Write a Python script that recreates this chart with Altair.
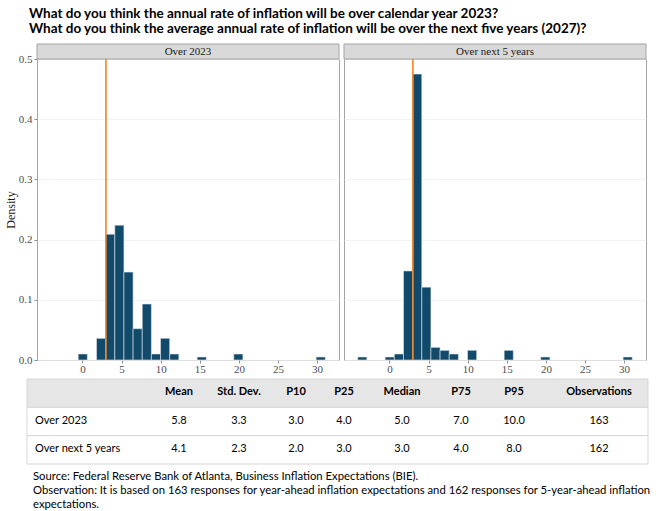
import altair as alt
import pandas as pd

# ---------------- data ----------------
panel_names = ["Over 2023", "Over next 5 years"]

# histogram bins: centre of each bin and its density
bin_centers_2023 = [0.04, 2.38, 3.55, 4.72, 5.89, 7.06, 8.23, 9.40, 10.57, 11.74, 15.25, 19.93, 30.46]
density_2023 = [0.010, 0.036, 0.209, 0.224, 0.146, 0.052, 0.093, 0.010, 0.036, 0.010, 0.005, 0.010, 0.005]
bin_centers_5y = [-3.47, 0.04, 1.21, 2.38, 3.55, 4.72, 5.89, 7.06, 8.23, 10.57, 15.25, 19.93, 30.46]
density_5y = [0.005, 0.005, 0.010, 0.148, 0.475, 0.121, 0.021, 0.016, 0.010, 0.016, 0.016, 0.005, 0.005]
bin_width = 1.17
reference_rate = 3.0

x_ticks = [0, 5, 10, 15, 20, 25, 30]
y_ticks = [0.0, 0.1, 0.2, 0.3, 0.4, 0.5]

title_lines = [
    "What do you think the annual rate of inflation will be over calendar year 2023?",
    "What do you think the average annual rate of inflation will be over the next five years (2027)?",
]

stat_columns = ["Mean", "Std. Dev.", "P10", "P25", "Median", "P75", "P95", "Observations"]
row_names = ["Over 2023", "Over next 5 years"]
stats_2023 = [5.8, 3.3, 3.0, 4.0, 5.0, 7.0, 10.0, 163]
stats_5y = [4.1, 2.3, 2.0, 3.0, 3.0, 4.0, 8.0, 162]

notes = [
    "Source: Federal Reserve Bank of Atlanta, Business Inflation Expectations (BIE).",
    "Observation: It is based on 163 responses for year-ahead inflation expectations and 162 responses for 5-year-ahead inflation",
    "expectations.",
]

# ---------------- layout & style ----------------
PANEL_W, PANEL_H = 302, 301
X_DOMAIN = [-5.81, 32.8]
VSPACE = 3
COL_X = [142, 202, 259, 307, 365, 424, 477, 562]   # table column centres (px)
TABLE_L, TABLE_R, TABLE_H = -10, 611, 85

SERIF = "Liberation Serif"
SANS = "Lato"
BAR = "#124a6b"
ORANGE = "#f5821f"
FRAME = "#a3a3a3"
STRIP = "#d9d9d9"
GRID = "#efefef"
HEADER = "#e7e6e6"
TABLE_LINE = "#d6d6d6"


def panel(name, centers, dens, first):
    df = pd.DataFrame({"center": centers, "density": dens})
    xs = alt.Scale(domain=X_DOMAIN, nice=False, zero=False)
    ys = alt.Scale(domain=[0, 0.5], nice=False)
    x_axis = alt.Axis(values=x_ticks, title=None, grid=False, domain=False,
                      labelFont=SERIF, labelFontSize=11, labelColor="#4d4d4d",
                      tickColor="#8c8c8c", tickSize=3, labelPadding=0)
    if first:
        y_axis = alt.Axis(values=y_ticks, format=".1f", title="Density",
                          titleFont=SERIF, titleFontSize=12, titleFontWeight="normal",
                          titleColor="#1a1a1a", titlePadding=1,
                          labelFont=SERIF, labelFontSize=11, labelColor="#4d4d4d",
                          tickColor="#8c8c8c", tickSize=3, labelPadding=2,
                          domain=False, grid=True, gridColor=GRID, gridWidth=0.8)
    else:
        y_axis = alt.Axis(values=y_ticks, title=None, labels=False, ticks=False,
                          domain=False, grid=True, gridColor=GRID, gridWidth=0.8)

    bars = alt.Chart(df).transform_calculate(
        lo=f"datum.center - {bin_width / 2}",
        hi=f"datum.center + {bin_width / 2}",
        base="0",
    ).mark_rect(fill=BAR, stroke="#dde6ec", strokeWidth=0.6).encode(
        x=alt.X("lo:Q", scale=xs, axis=x_axis),
        x2="hi:Q",
        y=alt.Y("density:Q", scale=ys, axis=y_axis),
        y2="base:Q",
    )

    rule = alt.Chart(pd.DataFrame({"rate": [reference_rate]})).mark_rule(
        color=ORANGE, strokeWidth=1.6
    ).encode(x=alt.X("rate:Q", scale=xs, axis=x_axis))

    strip_df = pd.DataFrame({"panel": [name]})
    strip = alt.Chart(strip_df).mark_rect(fill=STRIP, stroke=FRAME, strokeWidth=1).encode(
        x=alt.value(0), x2=alt.value(PANEL_W), y=alt.value(-15), y2=alt.value(0)
    )
    strip_text = alt.Chart(strip_df).mark_text(
        font=SERIF, fontSize=11, color="#1a1a1a", baseline="middle"
    ).encode(x=alt.value(PANEL_W / 2), y=alt.value(-7), text="panel:N")

    return alt.layer(bars, rule, strip, strip_text).properties(
        width=PANEL_W, height=PANEL_H,
        view=alt.ViewBackground(stroke=FRAME, strokeWidth=1),
    )


left = panel(panel_names[0], bin_centers_2023, density_2023, True)
right = panel(panel_names[1], bin_centers_5y, density_5y, False)
panels = alt.hconcat(left, right, spacing=3)

# ---------------- title ----------------
one = pd.DataFrame({"k": [0]})
title_text = alt.Chart(one).mark_text(
    text=title_lines, align="left", baseline="alphabetic", font=SANS,
    fontSize=13.5, fontWeight="bold", color="#000000", lineHeight=15,
).encode(x=alt.value(-8), y=alt.value(18))
anchor = alt.Chart(one).mark_rect(opacity=0).encode(
    x=alt.value(-37), x2=alt.value(-36), y=alt.value(0), y2=alt.value(1)
)
title_chart = alt.layer(anchor, title_text).properties(width=622, height=43 - VSPACE)

# ---------------- summary table + notes ----------------
rows_domain = ["header"] + row_names
row_scale = alt.Scale(domain=rows_domain, paddingInner=0, paddingOuter=0)

bg_df = pd.DataFrame({"row": rows_domain, "fill": [HEADER, "#ffffff", "#ffffff"]})
table_bg = alt.Chart(bg_df).mark_rect(stroke=TABLE_LINE, strokeWidth=1).encode(
    y=alt.Y("row:N", scale=row_scale, axis=None),
    x=alt.value(TABLE_L), x2=alt.value(TABLE_R),
    fill=alt.Fill("fill:N", scale=None),
)

def fmt(col, v):
    return f"{int(v)}" if col == "Observations" else f"{v:.1f}"

header_df = pd.DataFrame({"row": "header", "label": stat_columns, "xpos": COL_X})
cell_records = []
for rname, vals in zip(row_names, [stats_2023, stats_5y]):
    for col, v, xp in zip(stat_columns, vals, COL_X):
        cell_records.append({"row": rname, "label": fmt(col, v), "xpos": xp})
cells_df = pd.DataFrame(cell_records)
label_df = pd.DataFrame({"row": row_names, "label": row_names})

def text_enc(chart):
    return chart.encode(
        y=alt.Y("row:N", scale=row_scale, axis=None, bandPosition=0.5),
        text="label:N",
    )

header_text = text_enc(alt.Chart(header_df).mark_text(
    font=SANS, fontSize=11, fontWeight="bold", color="#000000", baseline="middle", dy=-1
)).encode(x=alt.X("xpos:Q", scale=None, axis=None))
cell_text = text_enc(alt.Chart(cells_df).mark_text(
    font=SANS, fontSize=11, color="#000000", baseline="middle", dy=-1
)).encode(x=alt.X("xpos:Q", scale=None, axis=None))
row_text = text_enc(alt.Chart(label_df).mark_text(
    font=SANS, fontSize=11, color="#000000", baseline="middle", align="left", dy=-1
)).encode(x=alt.value(-2))

notes_text = alt.Chart(one).mark_text(
    text=notes, align="left", baseline="alphabetic", font=SANS,
    fontSize=11.3, color="#000000", lineHeight=14,
).encode(x=alt.value(-4), y=alt.value(101))

bottom = alt.layer(table_bg, header_text, cell_text, row_text, notes_text).properties(
    width=622, height=TABLE_H
)

chart = alt.vconcat(title_chart, panels, bottom, spacing=VSPACE).properties(
    padding=0, background="#ffffff"
).configure_view(stroke=None)

chart.save("out.html", embed_options={"renderer": "svg", "actions": False})
